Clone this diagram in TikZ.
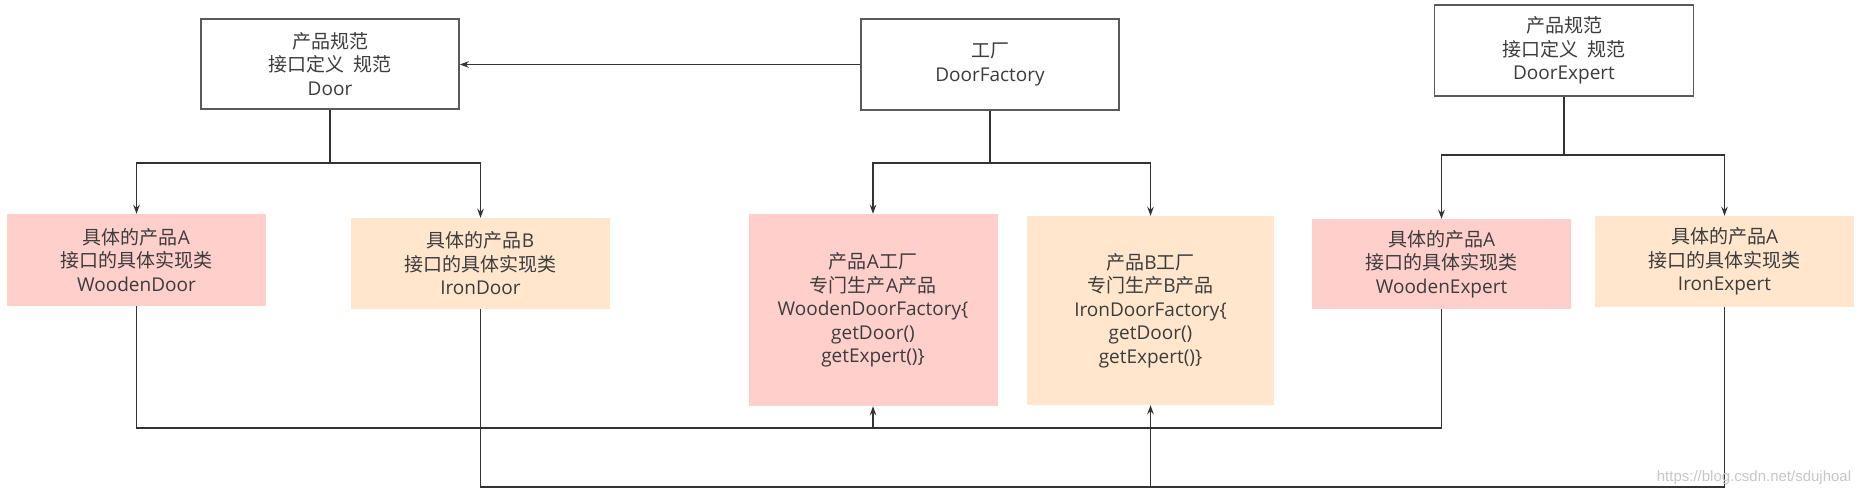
\documentclass[tikz,border=0pt]{standalone}
\usepackage{fontspec}
\setmainfont{Open Sans}
\newfontfamily\cjkfont{Noto Sans CJK SC}
\newcommand\zh[1]{{\cjkfont #1}}
\usetikzlibrary{arrows.meta}
\definecolor{pinkfill}{HTML}{FFCFCC}
\definecolor{orangefill}{HTML}{FFE6CC}
\definecolor{txt}{HTML}{3C3C3C}
\definecolor{edge}{HTML}{333333}
\definecolor{border}{HTML}{5A5A5A}
\tikzset{
  base/.style={inner sep=0pt, align=center, text=txt,
    font=\fontsize{19}{23.5}\selectfont},
  specbox/.style={base, draw=border, line width=1.6pt, fill=white},
  pinkbox/.style={base, fill=pinkfill},
  orangebox/.style={base, fill=orangefill},
  conn/.style={draw=edge, line width=1.4pt},
  arr/.style={conn, -{Stealth[length=9pt,width=6.5pt]}},
}
\begin{document}
\begin{tikzpicture}[x=1pt,y=-1pt]
\useasboundingbox[fill=white] (0,0) rectangle (1865,497);

% top interface / factory boxes
\node[specbox, minimum width=258pt, minimum height=90pt] (door) at (330,64)
  {\zh{产品规范}\\\zh{接口定义\ \ 规范}\\Door};
\node[specbox, minimum width=258pt, minimum height=91pt] (fac) at (990,64.5)
  {\zh{工厂}\\DoorFactory};
\node[specbox, minimum width=259pt, minimum height=91pt] (exp) at (1564,50.5)
  {\zh{产品规范}\\\zh{接口定义\ \ 规范}\\DoorExpert};

% concrete products
\node[pinkbox, minimum width=259pt, minimum height=92pt] (wd) at (136.5,260)
  {\zh{具体的产品}A\\\zh{接口的具体实现类}\\WoodenDoor};
\node[orangebox, minimum width=259pt, minimum height=91pt] (id) at (480.5,263.5)
  {\zh{具体的产品}B\\\zh{接口的具体实现类}\\IronDoor};
\node[pinkbox, minimum width=249pt, minimum height=192pt] (wdf) at (873,310)
  {\zh{产品}A\zh{工厂}\\\zh{专门生产}A\zh{产品}\\WoodenDoorFactory\{\\getDoor()\\getExpert()\}};
\node[orangebox, minimum width=247pt, minimum height=189pt] (idf) at (1150.5,310.5)
  {\zh{产品}B\zh{工厂}\\\zh{专门生产}B\zh{产品}\\IronDoorFactory\{\\getDoor()\\getExpert()\}};
\node[pinkbox, minimum width=259pt, minimum height=90pt] (we) at (1441.5,264)
  {\zh{具体的产品}A\\\zh{接口的具体实现类}\\WoodenExpert};
\node[orangebox, minimum width=259pt, minimum height=91pt] (ie) at (1724.5,261.5)
  {\zh{具体的产品}A\\\zh{接口的具体实现类}\\IronExpert};

% branch points and bus lines
\coordinate (bd) at (330,163);
\coordinate (bf) at (990,163);
\coordinate (be) at (1564,155);
\coordinate (l1) at (0,428);
\coordinate (l2) at (0,487);

% factory -> Door
\draw[arr] (fac.west) -- (fac.west -| door.east);

% Door -> products
\draw[conn] (door.south) -- (bd);
\draw[arr] (bd) -| (wd.north);
\draw[arr] (bd) -| (id.north);

% Factory -> concrete factories
\draw[conn] (fac.south) -- (bf);
\draw[arr] (bf) -| (wdf.north);
\draw[arr] (bf) -| (idf.north);

% Expert -> products
\draw[conn] (exp.south) -- (be);
\draw[arr] (be) -| (we.north);
\draw[arr] (be) -| (ie.north);

% bus line 1: WoodenDoor + WoodenExpert -> WoodenDoorFactory
\draw[conn] (wd.south) -- (wd.south |- l1) -- (we.south |- l1) -- (we.south);
\draw[arr] (wdf.south |- l1) -- (wdf.south);

% bus line 2: IronDoor + IronExpert -> IronDoorFactory
\draw[conn] (id.south) -- (id.south |- l2) -- (ie.south |- l2) -- (ie.south);
\draw[arr] (idf.south |- l2) -- (idf.south);

% watermark
\node[inner sep=0pt, text=black!22, font=\fontspec{Liberation Sans}\fontsize{15}{15}\selectfont]
  (wm) at (1754,478) {https://blog.csdn.net/sdujhoal};
\end{tikzpicture}
\end{document}
